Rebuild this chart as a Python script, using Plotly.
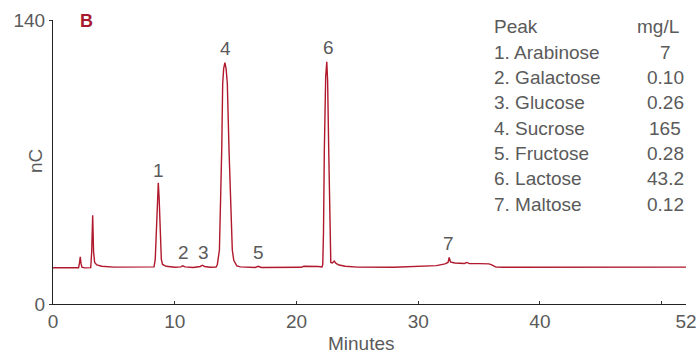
import plotly.graph_objects as go

# ---- data (minutes, nC) ----
time_min = [0, 2.0, 2.1, 2.17, 2.24, 2.3, 2.38, 2.6, 3.1, 3.18, 3.26, 3.33, 3.42, 3.6, 4.0, 5.0,
            7.5, 8.3, 8.4, 8.5, 8.58, 8.65, 8.72, 8.8, 8.9, 9.0, 9.3, 10.0, 10.5, 10.66, 10.85,
            11.5, 12.1, 12.27, 12.45, 12.9, 13.4, 13.5, 13.6, 13.67, 13.86, 13.94, 14.02,
            14.12, 14.22, 14.32, 14.46, 14.73, 14.85, 15.0, 15.1, 15.4, 16.0, 16.6,
            16.87, 17.1, 20.4, 20.6, 21.8, 22.1, 22.16, 22.22, 22.29, 22.4, 22.49, 22.56,
            22.65, 22.74, 22.82, 22.95, 23.1, 23.25, 23.5, 24.0, 25.0, 28.0, 30.0, 31.5, 32.2,
            32.45, 32.55, 32.65, 33.0, 33.5, 33.8, 34.0, 34.2, 35.0, 35.8, 36.0, 36.4, 37.0, 52.0]
signal_nc = [17.9, 17.9, 17.9, 20.0, 23.3, 20.0, 18.2, 17.8, 17.9, 26.0, 43.8, 26.0, 20.5, 19.3, 18.6, 18.2,
             18.0, 18.3, 22.0, 35.0, 52.0, 59.8, 52.0, 33.0, 22.0, 19.5, 18.6, 18.1, 18.3, 18.8, 18.3,
             18.0, 18.5, 19.1, 18.5, 18.1, 18.2, 19.5, 23.0, 26.6, 75.9, 108.7, 116.0,
             119.0, 116.0, 108.7, 75.9, 26.6, 21.5, 19.3, 18.8, 18.3, 18.1, 18.0,
             18.6, 18.0, 18.1, 18.6, 18.5, 18.3, 19.5, 35.0, 75.9, 112.0, 119.4, 110.0,
             75.9, 35.0, 20.5, 20.2, 21.2, 20.0, 19.2, 18.6, 18.2, 18.1, 18.4, 18.9, 19.8,
             20.5, 23.0, 20.8, 20.2, 20.3, 20.0, 20.5, 19.9, 19.9, 19.8, 19.4, 18.2, 18.1, 18.2]

peak_ids = ["1", "2", "3", "4", "5", "6", "7"]
peak_label_x = [8.7, 10.68, 12.4, 14.2, 16.9, 22.6, 32.5]
peak_label_y = [66, 25.6, 25.6, 126, 25.6, 126.6, 30]

peak_names = ["1. Arabinose", "2. Galactose", "3. Glucose", "4. Sucrose",
              "5. Fructose", "6. Lactose", "7. Maltose"]
peak_conc = ["7", "0.10", "0.26", "165", "0.28", "43.2", "0.12"]

x_tickvals = [0, 10, 20, 30, 40, 50, 52]
x_ticktext = ["0", "10", "20", "30", "40", "", "52"]
y_tickvals = [0, 140]

# ---- layout constants (pixels) ----
W, H = 699, 354
L, R, T, B = 53, 13, 20, 50
PW, PH = W - L - R, H - T - B
FONT = "Liberation Sans, Arial, Helvetica, sans-serif"
GRAY = "#5a5a5a"
RED = "#b0182c"


def px(x):
    return (x - L) / PW


def py(y):
    return (H - B - y) / PH


fig = go.Figure()
fig.add_trace(go.Scatter(x=time_min, y=signal_nc, mode="lines",
                         line=dict(color=RED, width=1.4), hoverinfo="skip",
                         showlegend=False))

ann = []
for t, xx, yy in zip(peak_ids, peak_label_x, peak_label_y):
    ann.append(dict(x=xx, y=yy, xref="x", yref="y", text=t, showarrow=False,
                    font=dict(size=19, color=GRAY, family=FONT)))

row0 = 27
step = 25.3
LEG = 19
ann.append(dict(x=px(492), y=py(row0), xref="paper", yref="paper", text="Peak",
                xanchor="left", yanchor="middle", showarrow=False,
                font=dict(size=LEG, color=GRAY, family=FONT)))
ann.append(dict(x=px(657.5), y=py(row0), xref="paper", yref="paper", text="mg/L",
                xanchor="center", yanchor="middle", showarrow=False,
                font=dict(size=LEG, color=GRAY, family=FONT)))
for i, (n, c) in enumerate(zip(peak_names, peak_conc)):
    yy = py(row0 + step * (i + 1))
    ann.append(dict(x=px(492), y=yy, xref="paper", yref="paper", text=n,
                    xanchor="left", yanchor="middle", showarrow=False,
                    font=dict(size=LEG, color=GRAY, family=FONT)))
    ann.append(dict(x=px(665), y=yy, xref="paper", yref="paper", text=c,
                    xanchor="center", yanchor="middle", showarrow=False,
                    font=dict(size=LEG, color=GRAY, family=FONT)))

ann.append(dict(x=px(86), y=py(21), xref="paper", yref="paper", text="<b>B</b>",
                xanchor="center", yanchor="middle", showarrow=False,
                font=dict(size=18, color="#a6192e", family=FONT)))
ann.append(dict(x=px(35), y=py(161), xref="paper", yref="paper", text="nC",
                textangle=-90, xanchor="center", yanchor="middle", showarrow=False,
                font=dict(size=19, color=GRAY, family=FONT)))
ann.append(dict(x=px(361), y=py(343), xref="paper", yref="paper", text="Minutes",
                xanchor="center", yanchor="middle", showarrow=False,
                font=dict(size=19, color=GRAY, family=FONT)))

fig.update_layout(
    width=W, height=H,
    margin=dict(l=L, r=R, t=T, b=B, pad=0, autoexpand=False),
    paper_bgcolor="white", plot_bgcolor="white",
    annotations=ann,
    xaxis=dict(range=[0, 52], tickvals=x_tickvals, ticktext=x_ticktext,
               ticks="inside", ticklen=3, tickcolor="#333", showgrid=False,
               zeroline=False, showline=True, linecolor="#222", linewidth=1,
               automargin=False,
               tickfont=dict(size=19, color=GRAY, family=FONT)),
    yaxis=dict(range=[0, 140], tickvals=y_tickvals, ticks="outside", ticklen=3,
               tickcolor="#333", showgrid=False, zeroline=False, showline=True,
               linecolor="#222", linewidth=1, automargin=False,
               tickfont=dict(size=19, color=GRAY, family=FONT)),
)

fig.write_html("out.html",
               config={"displayModeBar": False},
               post_script="document.body.style.margin='0';"
                           "document.body.style.overflow='hidden';")
